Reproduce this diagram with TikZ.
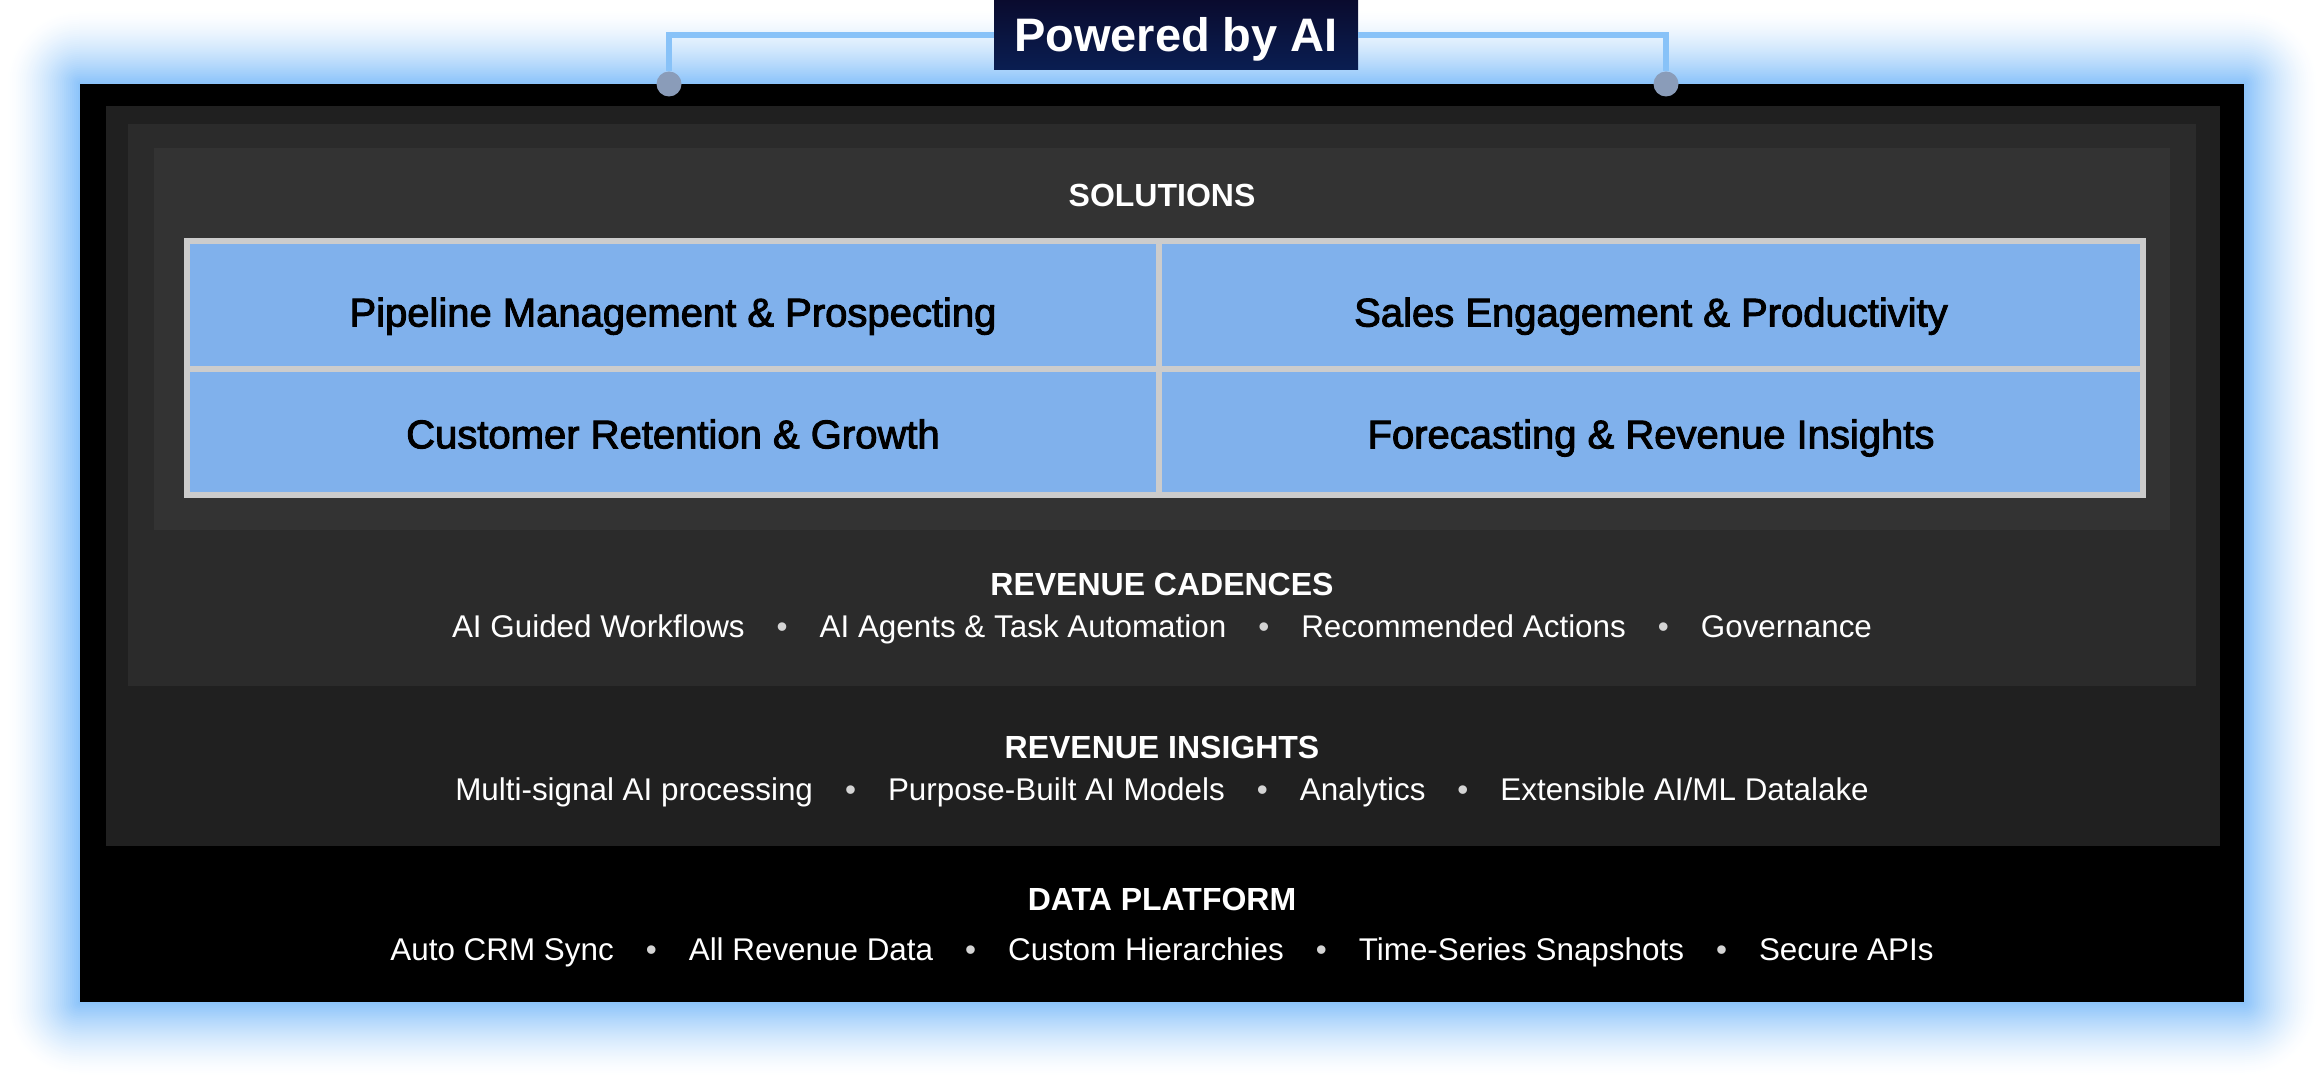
\documentclass[tikz,border=0pt]{standalone}
\usepackage{fontspec}
\setmainfont{Liberation Sans}
\newfontfamily\cellfont{Liberation Sans}[FakeBold=2.5]
\usepackage{xcolor}
\usepackage{tikz}
\usetikzlibrary{positioning}

\definecolor{glowblue}{HTML}{88C2FA}
\definecolor{layertwo}{HTML}{202020}
\definecolor{layerthree}{HTML}{2B2B2B}
\definecolor{layerfour}{HTML}{333333}
\definecolor{gridgray}{HTML}{CCCCCC}
\definecolor{cellblue}{HTML}{80B1EC}
\definecolor{navytop}{HTML}{0A0B2E}
\definecolor{navybot}{HTML}{0A1E52}
\definecolor{linkblue}{HTML}{88C2F8}
\definecolor{pingray}{HTML}{8A9CB9}
\definecolor{bulletgray}{HTML}{D4D4D4}

\newcommand{\bul}{\hspace{16pt}{\color{bulletgray}\textbullet}\hspace{16pt}}

\begin{document}
\begin{tikzpicture}[
  x=0.5pt, y=-0.5pt,
  headtext/.style={text=white, font=\fontsize{16}{19}\selectfont\bfseries, anchor=base, inner sep=0pt},
  itemtext/.style={text=white, font=\fontsize{15.7}{18}\selectfont, anchor=base, inner sep=0pt},
  cellbox/.style={fill=cellblue, text=black, font=\cellfont\fontsize{20}{24}\selectfont, inner sep=0pt, text depth=0pt},
  titlebox/.style={top color=navytop, bottom color=navybot, text=white, font=\fontsize{23.5}{28}\selectfont\bfseries, minimum width=182pt, minimum height=35pt, inner sep=0pt, text height=16.8pt, text depth=0pt},
  linkline/.style={draw=linkblue, line width=2.7pt},
  pindot/.style={circle, fill=pingray, minimum size=12.5pt, inner sep=0pt}
]
  \useasboundingbox (0,0) rectangle (2324,1090);
  \fill[white] (0,0) rectangle (2324,1090);

  % soft glow round the frame, outer rings first
  \foreach \i in {74,72,...,0}{
    \pgfmathsetmacro{\pct}{100*(1-\i/74)^1.5}
    \fill[glowblue!\pct!white, rounded corners=\i*0.5pt] (80-\i,84-\i) rectangle (2244+\i,1002+\i);
  }

  % nested layers
  \fill[black] (80,84) rectangle (2244,1002);
  \fill[layertwo] (106,106) rectangle (2220,846);
  \fill[layerthree] (128,124) rectangle (2196,686);
  \fill[layerfour] (154,148) rectangle (2170,530);
  \fill[gridgray] (184,238) rectangle (2146,498);

  \node[headtext] (solHead) at (1162,207) {SOLUTIONS};
  \node[cellbox, text height=21.5pt, minimum width=483pt, minimum height=61pt] (pipeline) at (673,305) {Pipeline Management \& Prospecting};
  \node[cellbox, text height=21.5pt, minimum width=489pt, minimum height=61pt] (engage) at (1651,305) {Sales Engagement \& Productivity};
  \node[cellbox, text height=16.3pt, minimum width=483pt, minimum height=60pt] (retain) at (673,432) {Customer Retention \& Growth};
  \node[cellbox, text height=16.3pt, minimum width=489pt, minimum height=60pt] (forecast) at (1651,432) {Forecasting \& Revenue Insights};

  \node[headtext] (cadHead) at (1162,596) {REVENUE CADENCES};
  \node[itemtext, below=21pt of cadHead.base, anchor=base] (cadItems) {AI Guided Workflows\bul AI Agents \& Task Automation\bul Recommended Actions\bul Governance};

  \node[headtext] (insHead) at (1162,758) {REVENUE INSIGHTS};
  \node[itemtext, below=21pt of insHead.base, anchor=base] (insItems) {Multi-signal AI processing\bul Purpose-Built AI Models\bul Analytics\bul Extensible AI/ML Datalake};

  \node[headtext] (dataHead) at (1162,910) {DATA PLATFORM};
  \node[itemtext, below=25pt of dataHead.base, anchor=base] (dataItems) {Auto CRM Sync\bul All Revenue Data\bul Custom Hierarchies\bul Time-Series Snapshots\bul Secure APIs};

  % title and its bracket
  \node[titlebox] (powered) at (1176,35) {Powered by AI};
  \node[pindot] (pinL) at (669,84) {};
  \node[pindot] (pinR) at (1666,84) {};
  \draw[linkline] (powered.west) -| (pinL);
  \draw[linkline] (powered.east) -| (pinR);
\end{tikzpicture}
\end{document}
